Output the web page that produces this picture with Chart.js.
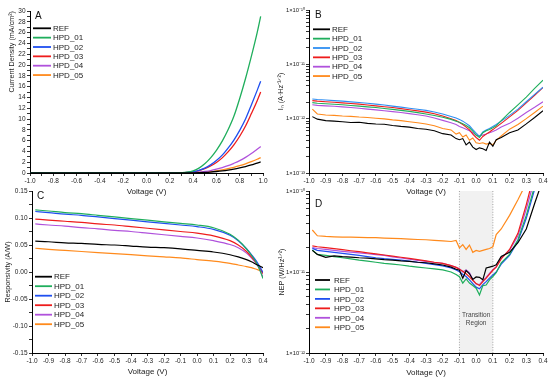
<!DOCTYPE html>
<html><head><meta charset="utf-8">
<script src="https://cdn.jsdelivr.net/npm/chart.js@4.4.1/dist/chart.umd.min.js"></script>
<style>
html,body{margin:0;padding:0;background:#fff;width:550px;height:381px;overflow:hidden;}
body{position:relative;}
canvas{position:absolute;}
</style></head>
<body>
<canvas id="cA" width="275" height="200" style="left:0;top:0;width:275px;height:200px"></canvas>
<canvas id="cB" width="275" height="200" style="left:275px;top:0;width:275px;height:200px"></canvas>
<canvas id="cC" width="275" height="200" style="left:0;top:181px;width:275px;height:200px"></canvas>
<canvas id="cD" width="275" height="200" style="left:275px;top:181px;width:275px;height:200px"></canvas>
<script>
// ---------- DATA ----------
const seriesNames = ['REF', 'HPD_01', 'HPD_02', 'HPD_03', 'HPD_04', 'HPD_05'];

// Panel A: current density (mA/cm^2) vs voltage (V)
const voltageA = [-1.0, -0.8, -0.6, -0.4, -0.2, 0.0, 0.1, 0.2, 0.25, 0.3, 0.35, 0.4, 0.45, 0.5, 0.55, 0.6, 0.65, 0.7, 0.75, 0.8, 0.85, 0.9, 0.95, 0.98];
const jREF   = [0,0,0,0,0,0,0,0, 0,    0,    0.01, 0.03, 0.06, 0.11, 0.18, 0.28, 0.40, 0.55, 0.73, 0.95, 1.20, 1.50, 1.85, 2.05];
const jHPD01 = [0,0,0,0,0,0,0,0, 0.01, 0.05, 0.15, 0.40, 0.90, 1.70, 2.80, 4.20, 5.90, 8.00, 10.5, 13.8, 17.5, 21.6, 26.0, 29.0];
const jHPD02 = [0,0,0,0,0,0,0,0, 0.01, 0.03, 0.10, 0.25, 0.50, 0.90, 1.50, 2.30, 3.30, 4.60, 6.10, 7.90, 10.0, 12.6, 15.3, 17.0];
const jHPD03 = [0,0,0,0,0,0,0,0, 0.01, 0.03, 0.10, 0.22, 0.45, 0.80, 1.30, 1.95, 2.80, 3.90, 5.20, 6.80, 8.70, 11.0, 13.4, 15.0];
const jHPD04 = [0,0,0,0,0,0,0,0, 0,    0.01, 0.03, 0.07, 0.15, 0.28, 0.45, 0.70, 1.00, 1.35, 1.80, 2.30, 2.90, 3.60, 4.40, 4.90];
const jHPD05 = [0,0,0,0,0,0,0,0, 0,    0.01, 0.02, 0.04, 0.09, 0.16, 0.26, 0.40, 0.58, 0.80, 1.05, 1.35, 1.70, 2.10, 2.55, 2.85];

// Panels B and D share this voltage grid (V)
const voltageBD = [-0.98,-0.95,-0.9,-0.85,-0.8,-0.75,-0.7,-0.65,-0.6,-0.55,-0.5,-0.45,-0.4,-0.35,-0.3,-0.25,-0.2,-0.15,
  -0.12,-0.1,-0.08,-0.06,-0.04,-0.02,0,0.02,0.04,0.06,0.08,0.1,0.12,0.15,0.2,0.25,0.3,0.35,0.4];

// Panel B: noise current in pA·Hz^-1/2 (x 1e-12 A·Hz^-1/2)
const noiseREF   = [1.09,0.98,0.92,0.90,0.88,0.85,0.86,0.82,0.80,0.79,0.75,0.72,0.70,0.66,0.64,0.60,0.53,0.50,0.43,0.41,0.43,0.33,0.37,0.30,0.27,0.29,0.28,0.26,0.37,0.31,0.41,0.45,0.55,0.62,0.80,1.05,1.40];
const noiseHPD01 = [1.97,1.92,1.88,1.84,1.80,1.75,1.70,1.65,1.60,1.54,1.48,1.42,1.36,1.29,1.22,1.14,1.06,0.97,0.90,0.86,0.81,0.75,0.68,0.59,0.50,0.45,0.55,0.60,0.63,0.68,0.74,0.92,1.30,1.80,2.50,3.60,5.10];
const noiseHPD02 = [2.30,2.25,2.20,2.15,2.10,2.04,1.98,1.92,1.85,1.78,1.70,1.63,1.56,1.49,1.42,1.33,1.22,1.10,1.03,0.97,0.90,0.82,0.74,0.63,0.54,0.47,0.57,0.62,0.66,0.72,0.78,0.90,1.15,1.50,2.05,2.80,3.80];
const noiseHPD03 = [2.15,2.10,2.05,2.00,1.95,1.90,1.85,1.79,1.72,1.66,1.60,1.53,1.46,1.39,1.32,1.23,1.12,1.00,0.93,0.85,0.78,0.70,0.62,0.52,0.45,0.40,0.47,0.52,0.57,0.63,0.70,0.82,1.08,1.42,1.95,2.70,3.75];
const noiseHPD04 = [1.80,1.76,1.72,1.69,1.65,1.60,1.55,1.50,1.45,1.40,1.35,1.30,1.24,1.18,1.12,1.03,0.93,0.84,0.78,0.72,0.68,0.64,0.60,0.55,0.50,0.48,0.50,0.52,0.55,0.58,0.62,0.70,0.82,1.02,1.30,1.62,2.05];
const noiseHPD05 = [1.50,1.22,1.17,1.15,1.12,1.10,1.07,1.05,1.02,0.99,0.95,0.92,0.88,0.84,0.80,0.74,0.66,0.62,0.52,0.55,0.46,0.50,0.40,0.44,0.36,0.35,0.36,0.34,0.35,0.33,0.40,0.48,0.64,0.78,1.00,1.30,1.70];

// Panel C: responsivity (A/W)
const voltageC = [-0.98,-0.9,-0.8,-0.7,-0.6,-0.5,-0.4,-0.3,-0.2,-0.1,0,0.1,0.2,0.25,0.3,0.33,0.36,0.38,0.4];
const respREF   = [0.057,0.056,0.054,0.053,0.051,0.050,0.048,0.046,0.045,0.043,0.040,0.037,0.032,0.028,0.023,0.019,0.014,0.011,0.008];
const respHPD01 = [0.115,0.113,0.110,0.108,0.105,0.102,0.099,0.096,0.093,0.090,0.087,0.082,0.070,0.059,0.043,0.031,0.017,0.004,-0.012];
const respHPD02 = [0.112,0.110,0.107,0.105,0.102,0.099,0.096,0.093,0.090,0.087,0.084,0.079,0.068,0.058,0.043,0.032,0.020,0.010,-0.001];
const respHPD03 = [0.098,0.096,0.094,0.092,0.089,0.087,0.084,0.081,0.078,0.075,0.072,0.067,0.058,0.050,0.038,0.028,0.017,0.008,-0.003];
const respHPD04 = [0.089,0.087,0.085,0.082,0.080,0.077,0.075,0.072,0.069,0.066,0.063,0.058,0.051,0.045,0.035,0.026,0.015,0.005,-0.010];
const respHPD05 = [0.044,0.042,0.040,0.038,0.036,0.034,0.032,0.030,0.028,0.026,0.023,0.020,0.016,0.013,0.010,0.008,0.005,0.003,0.000];

// Panel D: NEP in pW·Hz^-1/2 (x 1e-12 W/Hz^1/2)
const nepREF   = [18.5,16.5,15.2,15.8,15.5,15.3,15.0,14.8,14.5,14.2,14.0,13.7,13.5,13.2,13.0,12.6,12.2,11.5,10.8,10.5,8.4,10.4,9.5,8.1,8.7,8.6,8.0,11.2,11.5,11.8,12.3,15.6,17.5,23,34,70,140];
const nepHPD01 = [18.7,16.5,16.0,15.5,15.0,14.5,14.0,13.6,13.2,12.8,12.5,12.2,11.8,11.5,11.2,10.9,10.6,10.0,9.3,8.75,7.3,8.2,7.3,6.8,6.3,5.2,6.8,6.9,8.0,8.8,9.8,13,16.5,25,50,115,250];
const nepHPD02 = [19.6,18.5,18.0,17.5,17.0,16.5,16.0,15.5,15.0,14.6,14.3,14.0,13.6,13.2,12.8,12.3,11.9,11.2,10.6,10.1,9.3,8.8,8.0,7.2,6.5,6.2,7.0,7.6,8.4,9.2,10.0,12.5,16.0,24,46,105,230];
const nepHPD03 = [21.0,20.5,20.0,19.4,18.9,18.3,17.8,17.2,16.7,16.2,15.7,15.2,14.7,14.2,13.7,13.2,12.8,12.0,11.4,10.8,10.2,9.5,8.7,7.9,7.2,6.8,7.6,8.4,9.4,10.5,11.5,14.5,19,30,68,170,400];
const nepHPD04 = [20.0,19.5,19.0,18.5,18.0,17.6,17.2,16.8,16.4,16.0,15.4,14.9,14.4,13.9,13.5,13.1,12.8,12.0,11.4,11.0,10.0,10.6,9.8,8.0,7.1,7.0,7.8,8.6,9.6,10.7,11.6,15.0,18.5,28,60,140,330];
const nepHPD05 = [33,28,27.5,27.2,27.0,26.9,26.8,26.6,26.5,26.2,26.0,25.8,25.5,25.2,25.0,24.6,24.2,23.8,24.5,19.8,21.8,19.0,21.5,17.5,18.5,18.0,18.5,19.0,19.5,20.5,29,34,50,78,125,200,300];

// Transition region (V)
const transitionRange = [-0.1, 0.1];

// ---------- STYLE / HELPERS ----------
const FONT = "'Liberation Sans', Arial, Helvetica, sans-serif";
const colorsMain = ['#000000', '#1fae5c', '#1f4ff0', '#ee1c1c', '#b052dc', '#ff8a1c'];
const colorsB    = ['#000000', '#1fae5c', '#2f8ff2', '#ee1c1c', '#b052dc', '#ff8a1c'];
const SUP = {'-':'\u207B','0':'\u2070','1':'\u00B9','2':'\u00B2','3':'\u00B3','4':'\u2074','5':'\u2075','6':'\u2076','7':'\u2077','8':'\u2078','9':'\u2079'};
const sup = s => String(s).split('').map(c => SUP[c] || c).join('');
const fmt = (v, d) => { if (Math.abs(v) < 1e-9) v = 0; return v.toFixed(d); };

function datasets(xs, arrs, colors, width, k, smooth) {
  return arrs.map((arr, i) => ({
    label: seriesNames[i],
    data: xs.map((x, j) => ({x: x, y: arr[j] * k})),
    borderColor: colors[i],
    backgroundColor: colors[i],
    borderWidth: width,
    pointRadius: 0,
    fill: false,
    tension: 0,
    cubicInterpolationMode: smooth ? 'monotone' : 'default'
  }));
}

function xAxis(min, max, step, height, titlePadBottom, labelEvery) {
  return {
    type: 'linear', position: 'bottom', min: min, max: max,
    ticks: { stepSize: step, autoSkip: false, maxRotation: 0, minRotation: 0, padding: 1.5,
      font: {size: 6.5, family: FONT}, color: '#222',
      callback: v => {
        if (labelEvery && Math.abs(Math.round(v / step)) % labelEvery !== 0) return '';
        return fmt(v, 1);
      } },
    grid: { drawOnChartArea: false, drawTicks: true, tickLength: 3, tickColor: '#000', tickWidth: 0.8 },
    border: { display: true, color: '#000', width: 1 },
    title: { display: true, text: 'Voltage (V)', color: '#222', font: {size: 8, family: FONT},
      padding: {top: 0, bottom: titlePadBottom} },
    afterFit: s => { s.height = height; }
  };
}

function logTicks(eMin, eMax) {
  return scale => {
    const t = [];
    for (let e = eMin; e < eMax; e++) for (let m = 1; m < 10; m++) t.push({value: m * Math.pow(10, e)});
    t.push({value: Math.pow(10, eMax)});
    scale.ticks = t;
  };
}
const logLabel = v => {
  const l = Math.log10(v), e = Math.round(l);
  return Math.abs(l - e) < 1e-6 ? '1\u00D710' + sup(e) : '';
};

function yAxisBase(width, title, titlePad, align) {
  return {
    position: 'left',
    grid: { drawOnChartArea: false, drawTicks: true, tickLength: 3, tickColor: '#000', tickWidth: 0.8 },
    border: { display: true, color: '#000', width: 1 },
    title: { display: true, text: title, color: '#222', align: align || 'center',
      font: {size: 7.2, family: FONT}, padding: {top: titlePad, bottom: 0} },
    afterFit: s => { s.width = width; }
  };
}

// ---------- PLUGINS (drawing decorations in chart-area coordinates) ----------
const insideLegend = {
  id: 'insideLegend',
  afterDatasetsDraw(chart, args, o) {
    const ctx = chart.ctx, a = chart.chartArea;
    ctx.save();
    ctx.font = o.size + 'px ' + FONT;
    ctx.textBaseline = 'middle';
    ctx.textAlign = 'left';
    chart.data.datasets.forEach((ds, i) => {
      const y = a.top + o.y + i * o.dy;
      ctx.strokeStyle = ds.borderColor;
      ctx.lineWidth = 1.8;
      ctx.beginPath(); ctx.moveTo(a.left + o.x1, y); ctx.lineTo(a.left + o.x2, y); ctx.stroke();
      ctx.fillStyle = '#222';
      ctx.fillText(ds.label, a.left + o.tx, y + 0.5);
    });
    ctx.restore();
  }
};
const panelLetter = {
  id: 'panelLetter',
  afterDraw(chart, args, o) {
    const ctx = chart.ctx, a = chart.chartArea;
    ctx.save();
    ctx.font = '10px ' + FONT;
    ctx.fillStyle = '#111';
    ctx.textBaseline = 'alphabetic';
    ctx.fillText(o.text, a.left + o.x, a.top + o.y);
    ctx.restore();
  }
};
const transitionBand = {
  id: 'transitionBand',
  beforeDatasetsDraw(chart, args, o) {
    const ctx = chart.ctx, a = chart.chartArea, xs = chart.scales.x;
    const x1 = xs.getPixelForValue(o.from), x2 = xs.getPixelForValue(o.to);
    ctx.save();
    ctx.fillStyle = '#f1f1f1';
    ctx.fillRect(x1, a.top, x2 - x1, a.bottom - a.top);
    ctx.strokeStyle = '#9a9a9a';
    ctx.lineWidth = 0.9;
    ctx.setLineDash([1, 1.6]);
    [x1, x2].forEach(x => { ctx.beginPath(); ctx.moveTo(x, a.top); ctx.lineTo(x, a.bottom); ctx.stroke(); });
    ctx.setLineDash([]);
    ctx.fillStyle = '#444';
    ctx.font = '6.5px ' + FONT;
    ctx.textAlign = 'center';
    ctx.textBaseline = 'middle';
    const xc = xs.getPixelForValue((o.from + o.to) / 2);
    ctx.fillText('Transition', xc, a.top + o.ty);
    ctx.fillText('Region', xc, a.top + o.ty + 8.5);
    ctx.restore();
  }
};

Chart.defaults.font.family = FONT;
Chart.defaults.animation = false;

function baseOptions(padding, scales, plugOpts) {
  return {
    responsive: false, maintainAspectRatio: false, devicePixelRatio: 1, animation: false,
    layout: { padding: padding },
    scales: scales,
    plugins: Object.assign({ legend: {display: false}, tooltip: {enabled: false} }, plugOpts)
  };
}

// ---------- PANEL A ----------
const yA = Object.assign(yAxisBase(30, 'Current Density (mA/cm\u00B2)', 8.2, 'end'), {
  type: 'linear', min: 0, max: 30,
  ticks: { stepSize: 1, autoSkip: false, padding: 1.5, font: {size: 6.5, family: FONT}, color: '#222',
    callback: v => (Math.round(v) % 2 === 0 ? String(Math.round(v)) : '') }
});
new Chart(document.getElementById('cA'), {
  type: 'line',
  data: { datasets: datasets(voltageA, [jREF, jHPD01, jHPD02, jHPD03, jHPD04, jHPD05], colorsMain, 1.3, 1, true) },
  options: baseOptions({left: 0, top: 11, right: 12, bottom: 0},
    { x: xAxis(-1, 1, 0.1, 27, 3.2, 2), y: yA },
    { insideLegend: {x1: 3, x2: 21, tx: 23, y: 17.3, dy: 9.35, size: 8},
      panelLetter: {text: 'A', x: 5, y: 7.5} }),
  plugins: [insideLegend, panelLetter]
});

// ---------- PANEL B ----------
const yB = Object.assign(yAxisBase(34, 'I\u2099 (A\u00B7Hz\u207B\u00B9\u141F\u00B2)', 1.8), {
  type: 'logarithmic', min: 1e-13, max: 1e-10,
  afterBuildTicks: logTicks(-13, -10),
  ticks: { autoSkip: false, padding: 1, font: {size: 5.8, family: FONT}, color: '#222', callback: logLabel }
});
new Chart(document.getElementById('cB'), {
  type: 'line',
  data: { datasets: datasets(voltageBD, [noiseREF, noiseHPD01, noiseHPD02, noiseHPD03, noiseHPD04, noiseHPD05], colorsB, 1.1, 1e-12, false) },
  options: baseOptions({left: 0, top: 10, right: 7, bottom: 0},
    { x: xAxis(-1, 0.4, 0.1, 27, 3.2, 0), y: yB },
    { insideLegend: {x1: 4, x2: 21, tx: 23, y: 19.3, dy: 9.35, size: 8},
      panelLetter: {text: 'B', x: 6, y: 7.5} }),
  plugins: [insideLegend, panelLetter]
});

// ---------- PANEL C ----------
const yC = Object.assign(yAxisBase(32, 'Responsivity (A/W)', 3.6), {
  type: 'linear', min: -0.15, max: 0.15,
  ticks: { stepSize: 0.025, autoSkip: false, padding: 1.5, font: {size: 6.5, family: FONT}, color: '#222',
    callback: v => (Math.abs(Math.round(v / 0.025)) % 2 === 0 ? fmt(v, 2) : '') }
});
new Chart(document.getElementById('cC'), {
  type: 'line',
  data: { datasets: datasets(voltageC, [respREF, respHPD01, respHPD02, respHPD03, respHPD04, respHPD05], colorsMain, 1.2, 1, true) },
  options: baseOptions({left: 0, top: 10, right: 12, bottom: 0},
    { x: xAxis(-1, 0.4, 0.1, 28, 4.2, 0), y: yC },
    { insideLegend: {x1: 3, x2: 20, tx: 22, y: 85.7, dy: 9.5, size: 8},
      panelLetter: {text: 'C', x: 5, y: 7.5} }),
  plugins: [insideLegend, panelLetter]
});

// ---------- PANEL D ----------
const yD = Object.assign(yAxisBase(34, 'NEP (W/Hz\u00B9\u141F\u00B2)', 2.3), {
  type: 'logarithmic', min: 1e-12, max: 1e-10,
  afterBuildTicks: logTicks(-12, -10),
  ticks: { autoSkip: false, padding: 1, font: {size: 5.8, family: FONT}, color: '#222', callback: logLabel }
});
new Chart(document.getElementById('cD'), {
  type: 'line',
  data: { datasets: datasets(voltageBD, [nepREF, nepHPD01, nepHPD02, nepHPD03, nepHPD04, nepHPD05], colorsMain, 1.2, 1e-12, false) },
  options: baseOptions({left: 0, top: 10, right: 7, bottom: 0},
    { x: xAxis(-1, 0.4, 0.1, 28, 3.2, 0), y: yD },
    { insideLegend: {x1: 6, x2: 21, tx: 25, y: 89, dy: 9.45, size: 8},
      panelLetter: {text: 'D', x: 6, y: 16},
      transitionBand: {from: transitionRange[0], to: transitionRange[1], ty: 124} }),
  plugins: [transitionBand, insideLegend, panelLetter]
});
</script>
</body></html>
